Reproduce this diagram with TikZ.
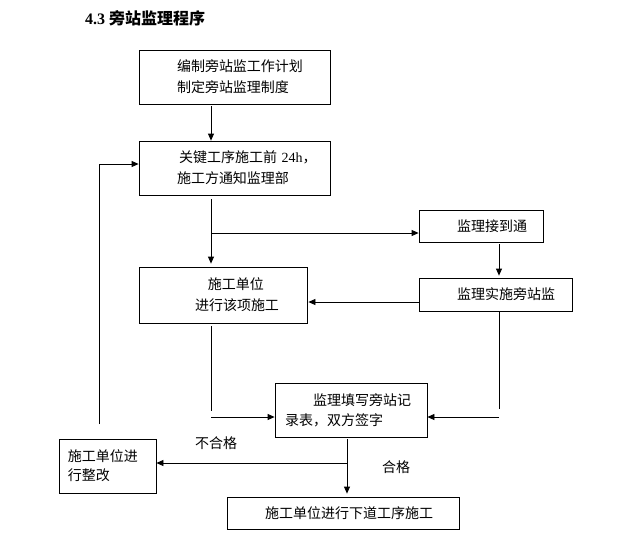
\documentclass[tikz,border=0pt]{standalone}
\usepackage{fontspec}
\setmainfont{Liberation Serif}
\newfontfamily\cjk{Noto Sans CJK SC}
\usetikzlibrary{arrows.meta, positioning}
\tikzset{
  box/.style={draw, line width=0.8pt, inner xsep=0pt, inner ysep=0pt, align=left,
    font=\cjk\fontsize{14}{21}\selectfont},
  arr/.style={-{Triangle[length=7pt, width=6pt]}, line width=0.8pt},
  link/.style={line width=0.8pt},
  tag/.style={font=\cjk\fontsize{14}{16}\selectfont, inner sep=0pt}
}

\begin{document}
\begin{tikzpicture}[x=1pt, y=-1pt]
    \useasboundingbox (0,0) rectangle (630,558);

    % Title
    \node[anchor=west, inner sep=0pt, font=\fontsize{16}{18}\selectfont\bfseries] (title) at (85,18)
        {4.3 {\cjk 旁站监理程序}};

    % Boxes
    \node[box, text width=191pt, minimum height=54pt] (plan) at (234.5,77)
        {\hspace*{38pt}编制旁站监工作计划\\\hspace*{38pt}制定旁站监理制度};
    \node[box, text width=191pt, minimum height=54pt] (step) at (234.5,168)
        {\hspace*{40pt}关键工序施工前 {\rmfamily 24h}，\\\hspace*{38pt}施工方通知监理部};
    \node[box, text width=168pt, minimum height=56pt] (work) at (223,295)
        {\hspace*{69pt}施工单位\\\hspace*{56pt}进行该项施工};
    \node[box, text width=124pt, minimum height=32pt] (notice) at (481,226)
        {\hspace*{38pt}监理接到通};
    \node[box, text width=153pt, minimum height=33pt] (watch) at (495.5,294.5)
        {\hspace*{38pt}监理实施旁站监};
    \node[box, text width=152pt, minimum height=54pt, font=\cjk\fontsize{14}{20}\selectfont] (record) at (351,410)
        {\hspace*{38pt}监理填写旁站记\\\hspace*{10pt}录表，双方签字};
    \node[box, text width=97pt, minimum height=54pt, font=\cjk\fontsize{14}{19}\selectfont] (fix) at (107.5,466)
        {\hspace*{9pt}施工单位进\\\hspace*{9pt}行整改};
    \node[box, text width=232pt, minimum height=32pt] (next) at (343,513)
        {\hspace*{38pt}施工单位进行下道工序施工};

    % Guide coordinates
    \coordinate (spine) at (211,0);
    \coordinate (rx) at (499,0);
    \coordinate (mid) at (347,0);
    \coordinate (fork1) at (211,233);
    \coordinate (row2) at (0,302);
    \coordinate (row3) at (0,417);
    \coordinate (row4) at (0,463);
    \coordinate (ret) at (99,424);
    \coordinate (retrow) at (0,164);

    % Main flow
    \draw[arr, shorten <=2pt] (plan.south -| spine) -- (step.north -| spine);
    \draw[arr, shorten <=4pt, shorten >=3pt] (step.south -| spine) -- (work.north -| spine);
    \draw[arr] (fork1) -- (fork1 -| notice.west);
    \draw[arr, shorten <=2pt, shorten >=2pt] (notice.south -| rx) -- (watch.north -| rx);
    \draw[arr, shorten >=1pt] (watch.west |- row2) -- (work.east |- row2);

    % Into the record
    \draw[link, shorten <=3pt] (work.south -| spine) -- (spine |- 0,411);
    \draw[arr] (spine |- row3) -- (record.west |- row3);
    \draw[link] (watch.south -| rx) -- (rx |- 0,409);
    \draw[arr] (rx |- row3) -- (record.east |- row3);

    % Result
    \draw[arr, shorten <=2pt, shorten >=3pt] (record.south -| mid) -- (next.north -| mid);
    \draw[arr] (mid |- row4) -- (fix.east |- row4);
    \node[tag] (fail) at (216,443) {不合格};
    \node[tag] (pass) at (396,467) {合格};

    % Back to the notice
    \draw[arr] (ret) |- (step.west |- retrow);
\end{tikzpicture}
\end{document}
